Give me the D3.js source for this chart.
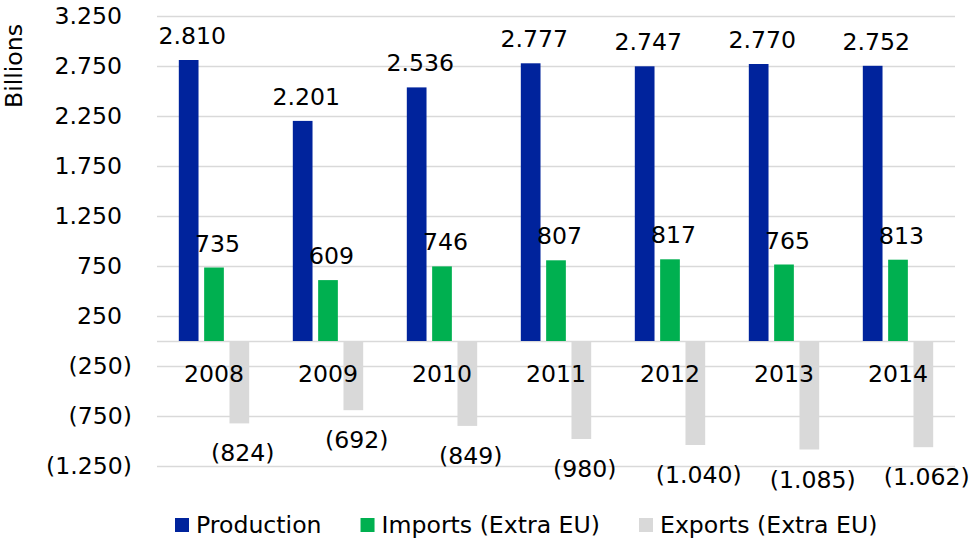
<!DOCTYPE html>
<html>
<head>
<meta charset="utf-8">
<script src="https://cdn.jsdelivr.net/npm/d3@7"></script>
<style>
  body { margin: 0; background: #fff; }
  text { font-family: "DejaVu Sans", Verdana, sans-serif; fill: #000; font-size: 23.6px; }
</style>
</head>
<body>
<svg width="972" height="541"></svg>
<script>
var years = ["2008", "2009", "2010", "2011", "2012", "2013", "2014"];
var seriesNames = ["Production", "Imports (Extra EU)", "Exports (Extra EU)"];
var production = [2810, 2201, 2536, 2777, 2747, 2770, 2752];
var imports = [735, 609, 746, 807, 817, 765, 813];
var exports = [-824, -692, -849, -980, -1040, -1085, -1062];
var tickValues = [3250, 2750, 2250, 1750, 1250, 750, 250, -250, -750, -1250];
var colors = ["#00239c", "#00b050", "#d9d9d9"];

var series = [production, imports, exports];

var svg = d3.select("svg"),
    width = +svg.attr("width"),
    height = +svg.attr("height");

var margin = {left: 157, right: 17, top: 16, bottom: 75};

var loc = d3.formatLocale({decimal: ",", thousands: ".", grouping: [3], currency: ["", ""]});
var fmt = loc.format(",d");
function label(v) { return v < 0 ? "(" + fmt(-v) + ")" : fmt(v); }

var x0 = d3.scaleBand()
    .domain(years)
    .range([margin.left, width - margin.right])
    .paddingInner(1 / 3)
    .paddingOuter(1 / 6);

var x1 = d3.scaleBand()
    .domain(d3.range(series.length))
    .range([0, x0.bandwidth()])
    .paddingInner(0.222)
    .paddingOuter(0.111);

var y = d3.scaleLinear()
    .domain([-1250, 3250])
    .range([height - margin.bottom, margin.top]);

// grid
svg.append("g").selectAll("line")
   .data(tickValues.concat([0]))
   .enter().append("line")
   .attr("x1", margin.left)
   .attr("x2", width - margin.right)
   .attr("y1", function(d) { return Math.round(y(d)) + 0.5; })
   .attr("y2", function(d) { return Math.round(y(d)) + 0.5; })
   .attr("stroke", "#d9d9d9")
   .attr("stroke-width", 1.3);

// y tick labels (accounting style: positives leave room for the paren)
svg.append("g").selectAll("text")
   .data(tickValues)
   .enter().append("text")
   .attr("x", function(d) { return d < 0 ? 132 : 122; })
   .attr("y", function(d) { return y(d); })
   .attr("dy", "0.35em")
   .attr("text-anchor", "end")
   .text(label);

svg.append("text")
   .attr("transform", "translate(22," + 66 + ") rotate(-90)")
   .attr("text-anchor", "middle")
   .text("Billions");

// bars
var groups = svg.append("g").selectAll("g")
   .data(years)
   .enter().append("g")
   .attr("transform", function(d) { return "translate(" + x0(d) + ",0)"; });

var cells = groups.selectAll("g")
   .data(function(d, i) {
     return series.map(function(s, k) { return {k: k, v: s[i]}; });
   })
   .enter().append("g");

cells.append("rect")
   .attr("x", function(d) { return x1(d.k); })
   .attr("width", x1.bandwidth())
   .attr("y", function(d) { return y(Math.max(0, d.v)); })
   .attr("height", function(d) { return Math.abs(y(d.v) - y(0)); })
   .attr("fill", function(d) { return colors[d.k]; });

// category labels
svg.append("g").selectAll("text")
   .data(years)
   .enter().append("text")
   .attr("x", function(d) { return x0(d) + x0.bandwidth() / 2; })
   .attr("y", 382)
   .attr("text-anchor", "middle")
   .text(function(d) { return d; });

// value labels
cells.append("text")
   .attr("x", function(d) { return x1(d.k) + x1.bandwidth() / 2 + 3.5; })
   .attr("y", function(d) { return d.v >= 0 ? y(d.v) - 16 : y(d.v) + 38; })
   .attr("text-anchor", "middle")
   .text(function(d) { return label(d.v); });

// legend
var legend = svg.append("g");
var lx = 175;
seriesNames.forEach(function(name, k) {
  legend.append("rect")
        .attr("x", lx).attr("y", 518)
        .attr("width", 14).attr("height", 14)
        .attr("fill", colors[k]);
  var t = legend.append("text")
        .attr("x", lx + 21).attr("y", 533)
        .text(name);
  lx += 21 + t.node().getComputedTextLength() + 39;
});
</script>
</body>
</html>
